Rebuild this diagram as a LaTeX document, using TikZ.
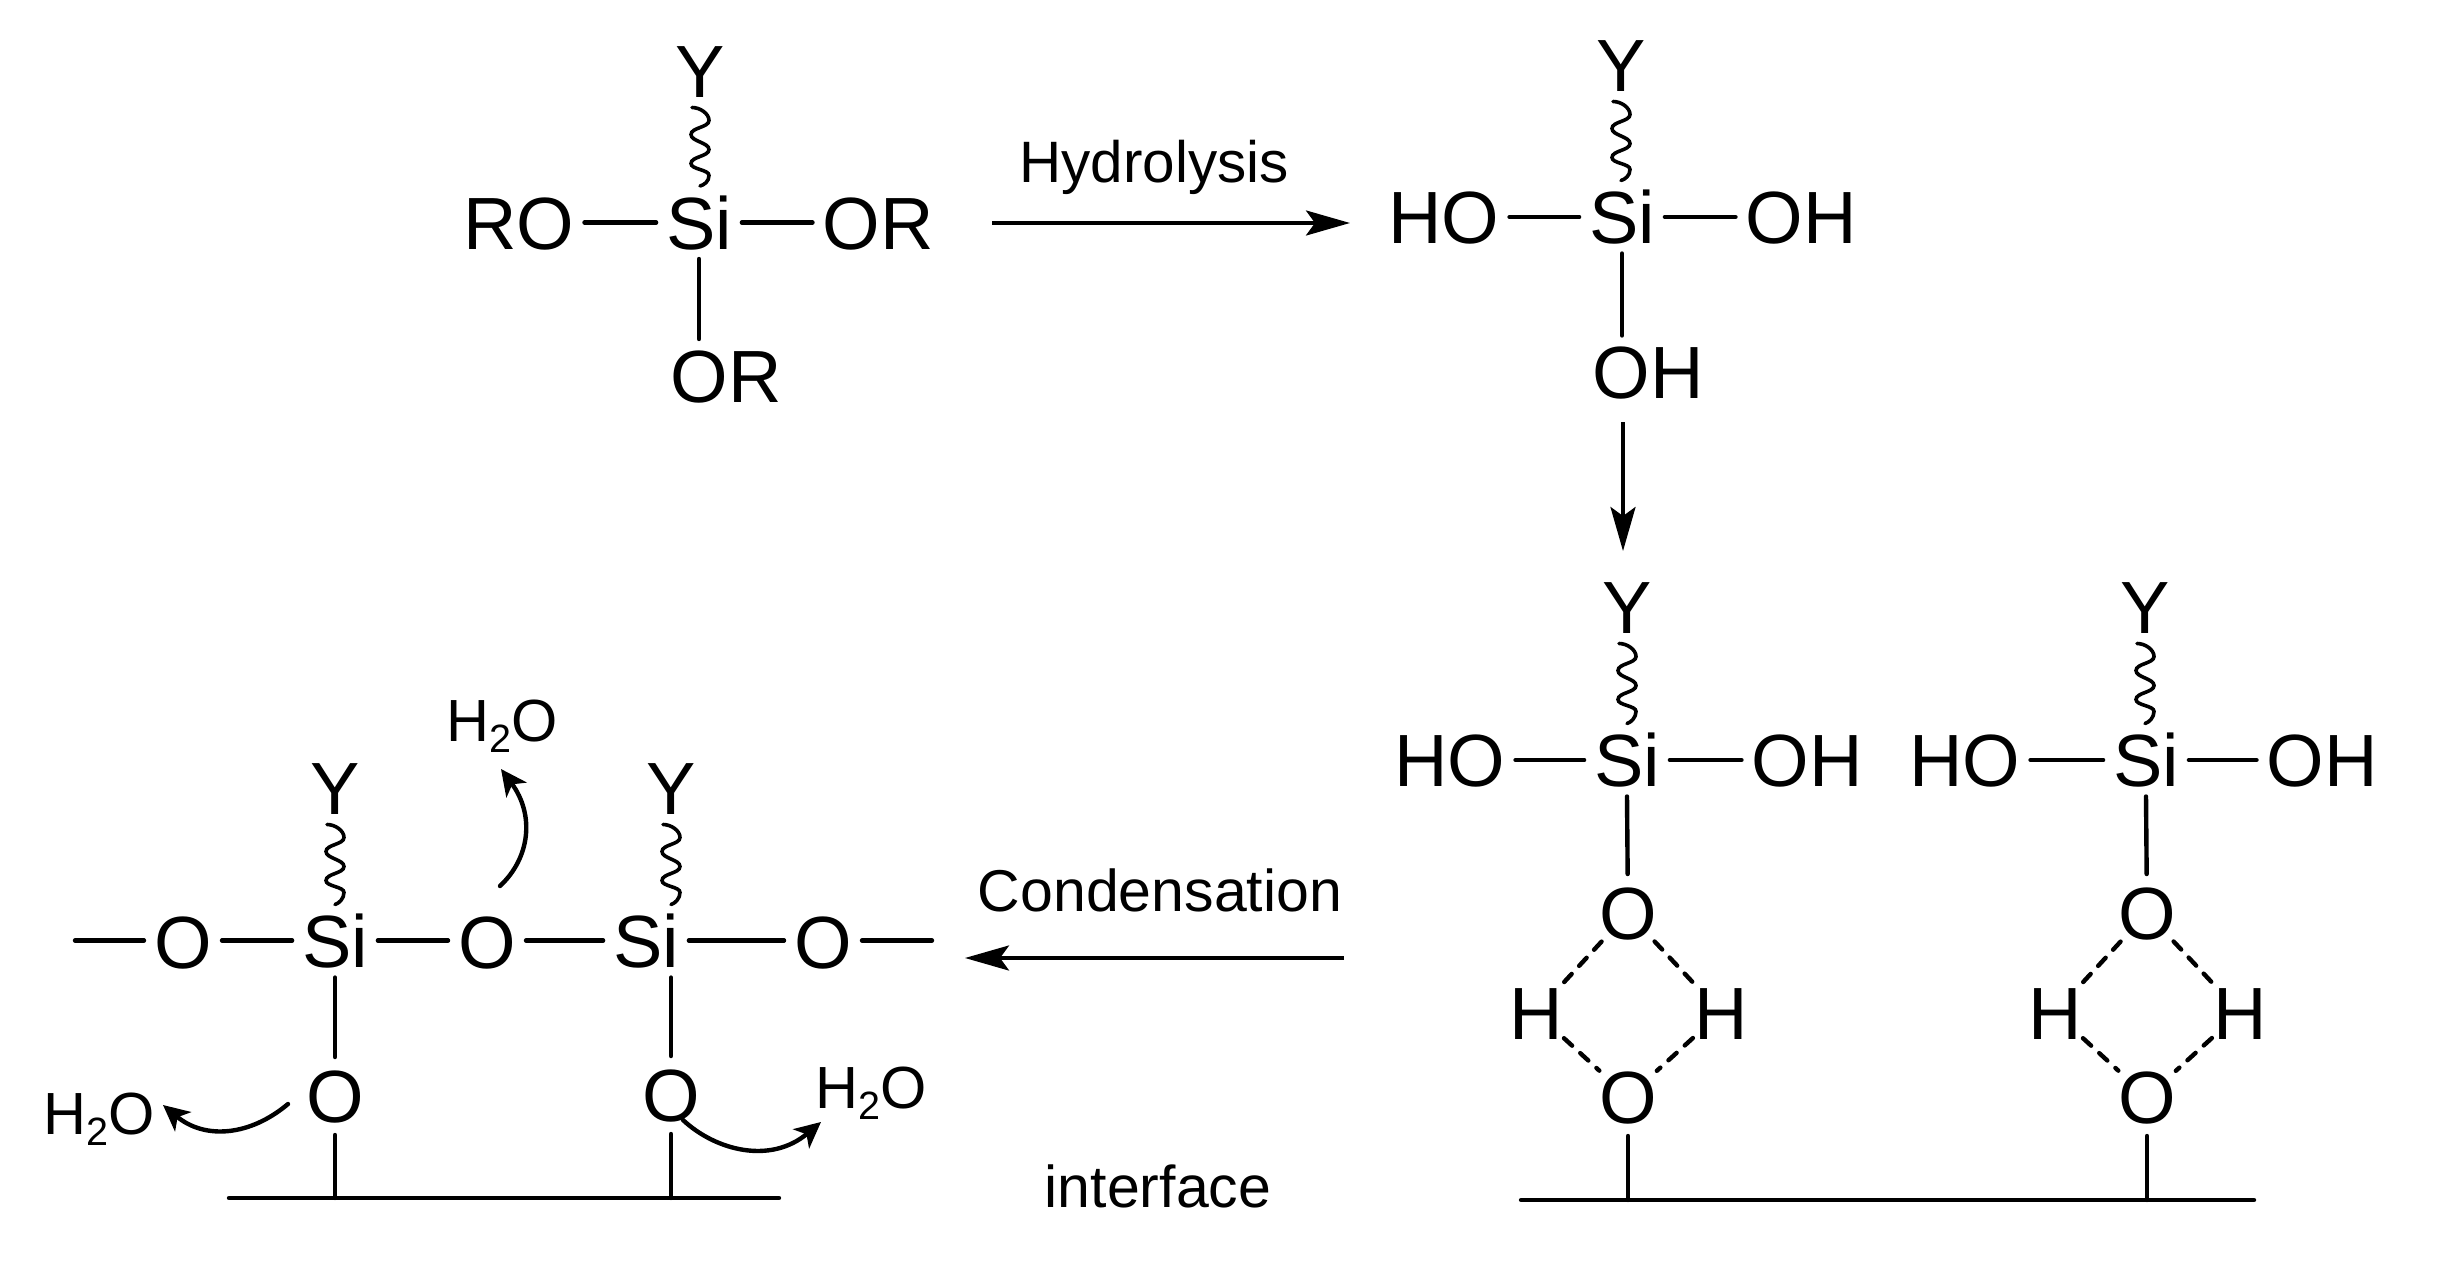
\documentclass[tikz,border=0pt]{standalone}
\usepackage{fontspec}
\setmainfont{Liberation Sans}
\usetikzlibrary{arrows.meta,calc}
\newcommand\waterlabel{H\raisebox{-11pt}{\fontsize{39.5}{40}\selectfont 2}O}
\tikzset{
  x=1pt,y=-1pt,
  atomtext/.style={font=\fontsize{74}{80}\selectfont,text height=53pt,text depth=0pt,inner ysep=10pt,inner xsep=10pt,outer sep=0pt},
  ringatom/.style={atomtext,circle,inner sep=0pt,minimum size=76pt},
  wlabel/.style={font=\fontsize{59.5}{60}\selectfont,text height=41pt,text depth=0pt,inner sep=0pt,anchor=base},
  caption/.style={font=\fontsize{59}{60}\selectfont,inner sep=0pt,anchor=base},
  bond/.style={line width=4.4pt,line cap=round},
  hbond/.style={line width=4.4pt,line cap=round,dash pattern=on 11pt off 11pt},
  wavy/.style={line width=3.6pt,line cap=round,to path={(\tikztostart) ++(-8,0)
     .. controls +(8,0) and +(0,-7) .. ++(17,13)
     .. controls +(0,7) and +(0,-7) .. ++(-18,14)
     .. controls +(0,7) and +(0,-7) .. ++(18,15)
     .. controls +(0,7) and +(0,-7) .. ++(-18,14)
     .. controls +(0,6) and +(0,-6) .. ++(18,12)
     .. controls +(0,6) and +(4,-1) .. (\tikztotarget)}},
  react/.style={line width=3.8pt,-{Stealth[length=44pt,width=25pt,inset=9pt]}},
  release/.style={line width=4.4pt,line cap=round,-{Stealth[length=26pt,width=25pt,inset=7pt]}},
}
\begin{document}
\begin{tikzpicture}
\useasboundingbox (0,0) rectangle (2442,1266);
% molecule 1
\node[atomtext] (aSi) at (699,222.5) {Si};
\node[atomtext] (aY) at (700,71) {Y};
\node[atomtext] (aRO) at (519,222.5) {RO};
\node[atomtext] (aOR) at (878,222.5) {OR};
\node[atomtext] (aORb) at (726,375.5) {OR};
\draw[wavy] (aY.south) to (aY |- aSi.north);
\draw[bond] (aRO) -- (aSi);
\draw[bond] (aSi) -- (aOR);
\draw[bond] (aSi.south) -- (aSi |- aORb.north);
% hydrolysis
\coordinate (hs) at (992,223);
\coordinate (he) at (1350,223);
\draw[react] (hs) -- (he);
\node[caption,font=\fontsize{58.4}{60}\selectfont] (hyd) at (1154,182) {Hydrolysis};
% molecule 2
\node[atomtext] (bSi) at (1622,217) {Si};
\node[atomtext] (bY) at (1621,65) {Y};
\node[atomtext] (bHO) at (1444,217) {HO};
\node[atomtext] (bOH) at (1801,217) {OH};
\node[atomtext] (bOHb) at (1648,372) {OH};
\draw[wavy] (bY.south) to (bY |- bSi.north);
\draw[bond] (bHO) -- (bSi);
\draw[bond] (bSi) -- (bOH);
\draw[bond] (bSi.south) -- (bSi |- bOHb.north);
\coordinate (ds) at (1623,422);
\coordinate (de) at (1623,551);
\draw[react] (ds) -- (de);
% molecule 3
\node[atomtext] (cSi) at (1627,760) {Si};
\node[atomtext] (cY) at (1627,607) {Y};
\node[atomtext] (cHO) at (1450,760) {HO};
\node[atomtext] (cOH) at (1807,760) {OH};
\node[ringatom] (cO) at (1628,913) {O};
\node[ringatom] (cHl) at (1536,1012.5) {H};
\node[ringatom] (cHr) at (1721,1012.5) {H};
\node[ringatom] (cOb) at (1628,1097) {O};
\draw[wavy] (cY.south) to (cY |- cSi.north);
\draw[bond] (cHO) -- (cSi);
\draw[bond] (cSi) -- (cOH);
\draw[bond] (cSi.south) -- (cO);
\draw[hbond] (cO) -- (cHl);
\draw[hbond] (cO) -- (cHr);
\draw[hbond] (cHl) -- (cOb);
\draw[hbond] (cHr) -- (cOb);
% molecule 4
\node[atomtext] (dSi) at (2146,760) {Si};
\node[atomtext] (dY) at (2145,607) {Y};
\node[atomtext] (dHO) at (1965,760) {HO};
\node[atomtext] (dOH) at (2322,760) {OH};
\node[ringatom] (dO) at (2147,913) {O};
\node[ringatom] (dHl) at (2055,1012.5) {H};
\node[ringatom] (dHr) at (2240,1012.5) {H};
\node[ringatom] (dOb) at (2147,1097) {O};
\draw[wavy] (dY.south) to (dY |- dSi.north);
\draw[bond] (dHO) -- (dSi);
\draw[bond] (dSi) -- (dOH);
\draw[bond] (dSi.south) -- (dO);
\draw[hbond] (dO) -- (dHl);
\draw[hbond] (dO) -- (dHr);
\draw[hbond] (dHl) -- (dOb);
\draw[hbond] (dHr) -- (dOb);
% right surface
\coordinate (rs) at (1521,1200);
\coordinate (re) at (2254,1200);
\draw[bond] (rs) -- (re);
\draw[bond] (cOb) -- (cOb |- rs);
\draw[bond] (dOb) -- (dOb |- rs);
% condensation
\coordinate (cs) at (1344,958);
\coordinate (ce) at (965,958);
\draw[react] (cs) -- (ce);
\node[caption] (cond) at (1160,911) {Condensation};
\node[caption] (iface) at (1158,1207) {interface};
% chain
\coordinate (fl) at (75,940.5);
\coordinate (fr) at (932,940.5);
\node[ringatom] (eO1) at (183,941.5) {O};
\node[atomtext] (eSi1) at (335,941) {Si};
\node[ringatom] (eO2) at (487,941.5) {O};
\node[atomtext] (eSi2) at (646,941) {Si};
\node[ringatom] (eO3) at (823,941.5) {O};
\node[atomtext] (eY1) at (335,788) {Y};
\node[atomtext] (eY2) at (671,788) {Y};
\node[ringatom] (eO4) at (335,1096) {O};
\node[ringatom] (eO5) at (671,1095) {O};
\draw[bond] (fl) -- (eO1.west |- fl);
\draw[bond] (eO1.east |- fl) -- (eSi1.west |- fl);
\draw[bond] (eSi1.east |- fl) -- (eO2.west |- fl);
\draw[bond] (eO2.east |- fl) -- (eSi2.west |- fl);
\draw[bond] (eSi2.east |- fl) -- (eO3.west |- fl);
\draw[bond] (eO3.east |- fl) -- (fr);
\draw[wavy] (eY1.south) to (eY1 |- eSi1.north);
\draw[wavy] (eY2.south) to (eY2 |- eSi2.north);
\draw[bond] (eSi1.south) -- (eO4);
\draw[bond] (eO5 |- eSi2.south) -- (eO5);
\coordinate (ls) at (229,1198);
\coordinate (le) at (779,1198);
\draw[bond] (ls) -- (le);
\draw[bond] (eO4) -- (eO4 |- ls);
\draw[bond] (eO5) -- (eO5 |- ls);
% water
\node[wlabel] (wl) at (99,1134) {\waterlabel};
\node[wlabel] (wt) at (502,741) {\waterlabel};
\node[wlabel] (wr) at (871,1108) {\waterlabel};
\coordinate (wls) at (288,1104);
\coordinate (wlt) at (163,1105);
\coordinate (wts) at (500,886);
\coordinate (wtt) at (501,769);
\coordinate (wrs) at (683,1120);
\coordinate (wrt) at (821,1122);
\draw[release] (wls) .. controls (250,1136) and (205,1140) .. (wlt);
\draw[release] (wts) .. controls (530,858) and (535,815) .. (wtt);
\draw[release] (wrs) .. controls (715,1150) and (770,1165) .. (wrt);
\end{tikzpicture}
\end{document}
